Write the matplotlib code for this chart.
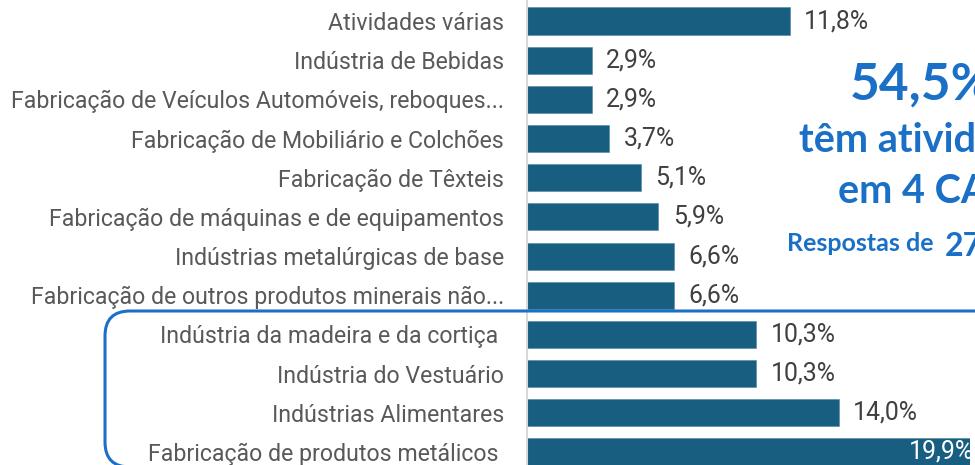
import matplotlib
matplotlib.use("Agg")
import matplotlib.pyplot as plt
from matplotlib.patches import FancyBboxPatch

categories = [
    "Atividades várias",
    "Indústria de Bebidas",
    "Fabricação de Veículos Automóveis, reboques...",
    "Fabricação de Mobiliário e Colchões",
    "Fabricação de Têxteis",
    "Fabricação de máquinas e de equipamentos",
    "Indústrias metalúrgicas de base",
    "Fabricação de outros produtos minerais não...",
    "Indústria da madeira e da cortiça ",
    "Indústria do Vestuário",
    "Indústrias Alimentares",
    "Fabricação de produtos metálicos ",
]
values = [11.8, 2.9, 2.9, 3.7, 5.1, 5.9, 6.6, 6.6, 10.3, 10.3, 14.0, 19.9]

headline = "54,5%"
line2 = "têm atividade"
line3 = "em 4 CAE"
line4a = "Respostas de "
line4b = "27"

BAR = "#175E80"
BLUE = "#1A70C6"
LABEL_FONT = "Roboto"
HI_FONT = "Lato"

W, H = 975, 465
fig = plt.figure(figsize=(W / 100, H / 100), dpi=100)
fig.patch.set_facecolor("white")

# calibrate label font size on widest label
renderer = fig.canvas.get_renderer()
t = fig.text(0, 0, categories[2], fontsize=10, family=LABEL_FONT)
w = t.get_window_extent(renderer).width
t.remove()
fs = 10 * 492 / w
fs_val = fs * 1.08

# axes geometry in pixels
left_px, right_px = 527, 970
c_top, c_bot = 21, 452
step = (c_bot - c_top) / (len(categories) - 1)
top_px = c_top - step / 2
bot_px = c_bot + step / 2
ax = fig.add_axes([left_px / W, (H - bot_px) / H, (right_px - left_px) / W, (bot_px - top_px) / H])

ypos = list(range(len(categories)))
ax.barh(ypos, values, height=0.69, color=BAR, edgecolor="#4F86A3", linewidth=0.4, zorder=2)
ax.set_ylim(len(categories) - 0.5, -0.5)
ax.set_xlim(0, 19.9)
ax.set_yticks(ypos)
ax.set_yticklabels(categories, fontsize=fs, family=LABEL_FONT, color="#595959")
ax.tick_params(axis="y", length=0, pad=16.5)
ax.set_xticks([])
for s in ["top", "right", "bottom"]:
    ax.spines[s].set_visible(False)
ax.spines["left"].set_color("#D9D9D9")
ax.spines["left"].set_linewidth(1.5)
ax.spines["left"].set_zorder(3)
ax.set_facecolor("none")

for i, v in enumerate(values):
    lab = f"{v:.1f}%".replace(".", ",")
    if i == len(values) - 1:
        ax.annotate(lab, (v, i), xytext=(3, 0), textcoords="offset points",
                    ha="right", va="center", fontsize=fs_val, family=LABEL_FONT,
                    color="white", clip_on=True, annotation_clip=False)
    else:
        ax.annotate(lab, (v, i), xytext=(10.5, 0), textcoords="offset points",
                    ha="left", va="center", fontsize=fs_val, family=LABEL_FONT,
                    color="#404040")

# highlight rounded box (figure inches)
box = FancyBboxPatch((1.05, -0.02), 9.5, 1.56,
                     boxstyle="round,pad=0,rounding_size=0.25",
                     transform=fig.dpi_scale_trans, fill=False,
                     edgecolor=BLUE, linewidth=2.2, zorder=5, clip_on=False)
fig.add_artist(box)

def ftxt(x, y, s, size):
    fig.text(x / W, 1 - y / H, s, fontsize=size, family=HI_FONT,
             fontweight="bold", color=BLUE, ha="left", va="baseline")

ftxt(850, 100, headline, 37)
ftxt(799, 152, line2, 28.5)
ftxt(838, 203, line3, 28.5)
ftxt(787, 251, line4a, 18)
ftxt(945, 256, line4b, 23)

fig.savefig("out.png", dpi=100, facecolor="white")
